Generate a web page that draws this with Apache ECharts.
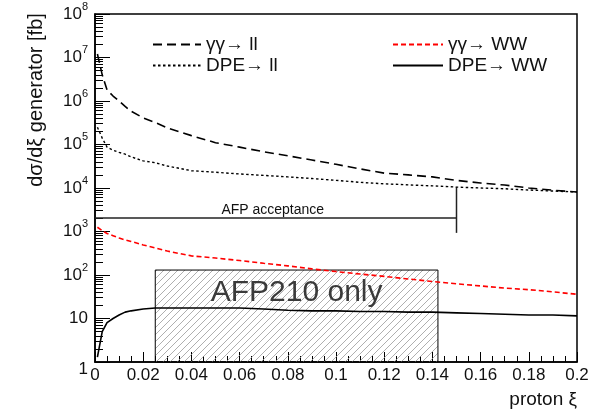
<!DOCTYPE html>
<html><head><meta charset="utf-8">
<script src="https://cdn.jsdelivr.net/npm/echarts@6/dist/echarts.min.js"></script>
<style>html,body{margin:0;padding:0;background:#fff}#c{width:600px;height:413px}</style>
</head><body><div id="c"></div>
<script>
// proton xi sample points
const xi = [0.001, 0.003, 0.005, 0.0075, 0.01, 0.0125, 0.015, 0.02, 0.025, 0.03, 0.04, 0.05, 0.06, 0.07, 0.08, 0.09, 0.10, 0.11, 0.12, 0.13, 0.14, 0.15, 0.16, 0.17, 0.18, 0.19, 0.2];
// dsigma/dxi [fb]
const ggLL  = [1.2e7, 4e6, 1.8e6, 1.3e6, 1.0e6, 7.5e5, 5.8e5, 4.1e5, 3.2e5, 2.4e5, 1.6e5, 1.1e5, 8.7e4, 6.8e4, 5.5e4, 4.4e4, 3.5e4, 2.75e4, 2.2e4, 2.0e4, 1.8e4, 1.5e4, 1.3e4, 1.17e4, 1.0e4, 8.9e3, 8.1e3];
const dpeLL = [2.5e5, 1.4e5, 8.7e4, 7.4e4, 6.6e4, 6.0e4, 5.2e4, 4.2e4, 3.8e4, 3.2e4, 2.5e4, 2.3e4, 2.1e4, 1.95e4, 1.8e4, 1.65e4, 1.5e4, 1.35e4, 1.25e4, 1.18e4, 1.12e4, 1.05e4, 1.0e4, 9.6e3, 9.0e3, 8.5e3, 8.1e3];
const ggWW  = [1250, 1050, 900, 800, 710, 640, 590, 490, 420, 355, 275, 245, 215, 186, 162, 138, 120, 105, 93, 81, 71, 63, 56, 50, 46, 41, 36];
const dpeWW = [1.3, 5, 8, 10, 12, 14, 15, 16.5, 17.5, 17.5, 17.5, 17.5, 17.5, 16.5, 15.5, 15, 15, 14.5, 14.5, 14, 14, 13.5, 13, 12.5, 12, 12, 11.5];
const seriesNames = ['γγ→ ll', 'DPE→ ll', 'γγ→ WW', 'DPE→ WW'];
// AFP210-only box: [xi from, xi to, y from, y to]
const afpBox = [0.025, 0.1423, 1, 130];
// AFP acceptance marker: [xi from, xi to, y level, vertical y from, vertical y to]
const afpAcc = [0, 0.15, 2050, 930, 10500];
const xRange = [0, 0.2];
const yRange = [1, 1e8];

const FONT = '"Liberation Sans", Arial, sans-serif';

// hatch pattern
const hatch = document.createElement('canvas');
hatch.width = 7; hatch.height = 7;
(function(){
  const g = hatch.getContext('2d');
  g.strokeStyle = '#9a9a9a'; g.lineWidth = 0.8;
  g.beginPath();
  g.moveTo(-1, 8); g.lineTo(8, -1);
  g.moveTo(-1, 1); g.lineTo(1, -1);
  g.moveTo(6, 8); g.lineTo(8, 6);
  g.stroke();
})();

const chart = echarts.init(document.getElementById('c'), null, {renderer: 'canvas'});
const pairs = arr => xi.map((x, i) => [x, arr[i]]);

const legendBase = {orient: 'vertical', top: 30, itemHeight: 14, itemGap: 2,
  itemStyle: {opacity: 0},
  textStyle: {fontSize: 19, fontFamily: FONT, color: '#111'}};

chart.setOption({
  animation: false,
  backgroundColor: '#fff',
  grid: {left: 95, right: 23, top: 14, bottom: 51, show: true, borderColor: '#000', borderWidth: 1.5, backgroundColor: 'transparent'},
  legend: [
    Object.assign({}, legendBase, {data: [seriesNames[0], seriesNames[1]], left: 147, itemWidth: 48}),
    Object.assign({}, legendBase, {data: [seriesNames[2], seriesNames[3]], left: 387, itemWidth: 50})
  ],
  xAxis: {
    type: 'value', min: xRange[0], max: xRange[1], interval: 0.02,
    axisLine: {onZero: false, lineStyle: {color: '#000', width: 1.5}},
    axisTick: {inside: true, length: 10, lineStyle: {color: '#000', width: 1}},
    minorTick: {show: true, splitNumber: 4, length: 6, lineStyle: {color: '#000', width: 1}},
    splitLine: {show: false},
    axisLabel: {margin: 5, fontSize: 17, fontFamily: FONT, color: '#111', formatter: v => String(+(+v).toFixed(3))}
  },
  yAxis: {
    type: 'log', logBase: 10, min: yRange[0], max: yRange[1], splitNumber: 8,
    axisLine: {lineStyle: {color: '#000', width: 1.5}},
    axisTick: {inside: true, length: 15, lineStyle: {color: '#000', width: 1}},
    minorTick: {show: true, splitNumber: 9, length: 8, lineStyle: {color: '#000', width: 1}},
    splitLine: {show: false},
    axisLabel: {
      margin: 7,
      formatter: v => {
        const e = Math.round(Math.log10(v));
        if (e === 0) return '{one|1}';
        if (e === 1) return '{b|10}';
        return '{b|10}{s|' + e + '}';
      },
      rich: {
        b: {fontSize: 17, fontFamily: FONT, color: '#111', lineHeight: 26},
        s: {fontSize: 11, fontFamily: FONT, color: '#111', verticalAlign: 'top'},
        one: {fontSize: 17, fontFamily: FONT, color: '#111', padding: [14, 0, 0, 0]}
      }
    }
  },
  series: [
    {type: 'custom', name: 'box', silent: true, z: 1, data: [afpBox],
     renderItem: (params, api) => {
       const p0 = api.coord([api.value(0), api.value(3)]);
       const p1 = api.coord([api.value(1), api.value(2)]);
       return {type: 'group', children: [
         {type: 'rect', shape: {x: p0[0], y: p0[1], width: p1[0] - p0[0], height: p1[1] - p0[1]},
          style: {fill: {image: hatch, repeat: 'repeat'}, stroke: '#000', lineWidth: 1}},
         {type: 'text', style: {text: 'AFP210 only', x: (p0[0] + p1[0]) / 2, y: p0[1] + 23, align: 'center', verticalAlign: 'middle',
          font: '30px ' + FONT, fill: '#3a3a3a'}}
       ]};
     }},
    {type: 'custom', name: 'acc', silent: true, z: 3, data: [afpAcc],
     renderItem: (params, api) => {
       const a = api.coord([api.value(0), api.value(2)]);
       const b = api.coord([api.value(1), api.value(2)]);
       const c = api.coord([api.value(1), api.value(3)]);
       const d = api.coord([api.value(1), api.value(4)]);
       return {type: 'group', children: [
         {type: 'line', shape: {x1: a[0], y1: a[1], x2: b[0], y2: b[1]}, style: {stroke: '#222', lineWidth: 1.5}},
         {type: 'line', shape: {x1: c[0], y1: c[1], x2: d[0], y2: d[1]}, style: {stroke: '#222', lineWidth: 1.5}},
         {type: 'text', style: {text: 'AFP acceptance', x: (a[0] + b[0]) / 2 - 3, y: a[1] - 8, align: 'center', verticalAlign: 'middle',
          font: '14px ' + FONT, fill: '#111'}}
       ]};
     }},
    {name: seriesNames[0], type: 'line', data: pairs(ggLL), symbol: 'none', z: 5,
     lineStyle: {color: '#000', width: 1.6, type: [9, 5]}, itemStyle: {color: '#000'}},
    {name: seriesNames[1], type: 'line', data: pairs(dpeLL), symbol: 'none', z: 5,
     lineStyle: {color: '#000', width: 1.4, type: [2.5, 2.5]}, itemStyle: {color: '#000'}},
    {name: seriesNames[2], type: 'line', data: pairs(ggWW), symbol: 'none', z: 5,
     lineStyle: {color: '#ff0000', width: 1.6, type: [5, 3]}, itemStyle: {color: '#ff0000'}},
    {name: seriesNames[3], type: 'line', data: pairs(dpeWW), symbol: 'none', z: 5,
     lineStyle: {color: '#000', width: 1.6, type: 'solid'}, itemStyle: {color: '#000'}}
  ],
  graphic: [
    {type: 'text', x: 36, y: 100, rotation: Math.PI / 2,
     style: {text: 'dσ/dξ generator [fb]', font: '20px ' + FONT, fill: '#111', align: 'center', verticalAlign: 'middle'}},
    {type: 'text', x: 577, y: 400,
     style: {text: 'proton ξ', font: '19px ' + FONT, fill: '#111', align: 'right', verticalAlign: 'middle'}}
  ]
});
</script>
</body></html>
